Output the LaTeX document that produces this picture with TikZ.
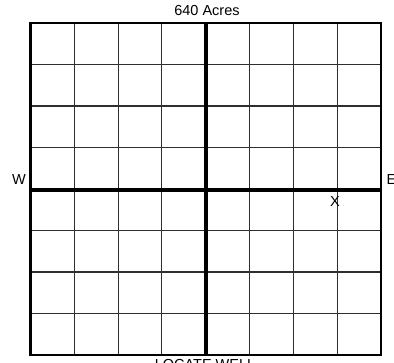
\documentclass[tikz,border=0pt]{standalone}
\usepackage{fontspec}
\setmainfont{Liberation Sans}
\usetikzlibrary{positioning}
\definecolor{gridline}{HTML}{2E2E2E}
\definecolor{ink}{HTML}{000000}

\begin{document}
\begin{tikzpicture}[
  x=1pt, y=-1pt,
  font=\fontsize{14.5}{16}\selectfont,
  tag/.style={inner sep=0pt, anchor=base, text=ink},
  fine/.style={draw=gridline, line width=1.1pt},
  rim/.style={draw=ink, line width=2.4pt},
  axis/.style={draw=ink, line width=3.4pt}
]
  \useasboundingbox (0,0) rectangle (394,362);
  \coordinate (NW) at (30.5,23);
  \coordinate (SE) at (381,355);
  \coordinate (N) at (206,23);
  \coordinate (S) at (206,355);
  \coordinate (Wm) at (30.5,190);
  \coordinate (Em) at (381,190);
  % section lines
  \foreach \i in {1,...,7} {
    \draw[fine] (30.5+\i*43.8125,23) -- (30.5+\i*43.8125,355);
    \draw[fine] (30.5,23+\i*41.5) -- (381,23+\i*41.5);
  }
  \draw[axis] (N) -- (S);
  \draw[axis] (Wm) -- (Em);
  \draw[rim] (NW) rectangle (SE);
  \node[tag] (acres) at (207,15) {640 Acres};
  \node[tag] (west) at (19,184) {W};
  \node[tag, anchor=base west] (east) at (386.5,184) {E};
  \node[tag] (well) at (335,206) {X};
  \node[tag] (caption) at (205,369) {LOCATE WELL};
\end{tikzpicture}
\end{document}
